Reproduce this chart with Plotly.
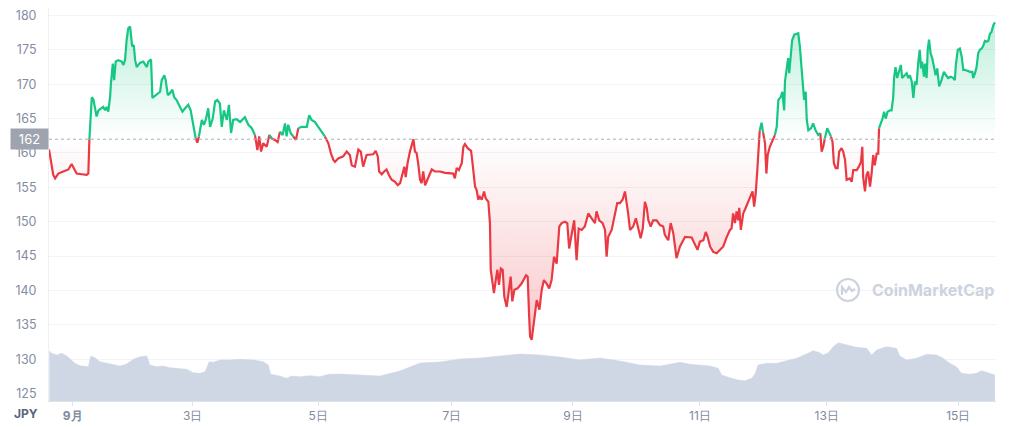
import numpy as np
import plotly.graph_objects as go

# ---------------- data ----------------
BASE = 162  # opening price reference line

# hours since start of window (start ~ Aug 31 18:00)
t_price = [0.0,0.8,1.6,2.3,3.5,5.4,7.3,8.5,9.1,10.4,12.3,14.2,14.8,15.2,15.7,16.1,16.7,17.3,17.9,18.6,
19.8,20.4,21.1,21.7,22.3,23.0,23.3,24.0,24.5,25.1,26.1,27.4,28.0,28.6,29.2,29.8,30.5,30.9,31.3,31.9,
32.4,33.0,34.2,35.5,36.1,36.8,37.4,38.4,38.9,39.9,41.1,41.8,42.4,43.4,43.9,44.7,45.5,46.4,47.1,48.0,
49.3,50.2,51.2,52.4,53.3,53.9,54.6,55.2,55.8,56.4,57.5,58.3,59.1,59.9,60.6,61.6,62.5,63.3,64.3,65.0,
65.8,66.9,67.7,68.5,69.3,70.6,71.9,73.7,75.0,76.3,77.5,78.4,79.1,79.8,80.6,81.9,82.9,83.8,85.0,86.0,
86.9,87.9,88.8,89.4,90.0,90.9,91.9,92.9,93.8,95.1,97.0,97.9,98.8,100.1,101.3,102.6,103.8,105.1,106.1,107.0,
107.6,108.8,110.7,112.0,113.2,113.9,115.1,116.4,117.3,118.2,119.5,120.8,122.0,122.9,123.7,124.2,125.2,126.1,127.0,127.9,
128.9,130.2,131.2,132.1,132.9,133.7,134.2,134.9,135.8,136.7,137.1,137.7,138.3,138.9,139.6,140.2,140.8,141.5,142.3,143.3,
144.0,145.2,147.1,149.0,150.9,152.1,152.7,153.4,154.2,155.3,155.9,156.5,157.5,158.8,159.3,159.9,160.3,160.9,161.5,162.1,
162.8,163.7,164.3,165.3,165.9,166.2,166.8,167.4,168.1,168.7,169.3,170.0,170.7,171.3,172.2,172.8,173.7,174.3,175.1,176.3,
177.8,179.5,180.1,180.6,181.0,181.6,182.5,183.5,184.5,185.4,186.2,187.2,188.2,189.1,190.0,191.0,192.0,192.9,194.1,195.0,
195.7,196.6,197.6,198.5,199.3,200.4,201.6,202.9,204.2,205.4,206.0,207.0,208.3,209.2,209.8,210.4,211.7,212.9,213.8,214.8,
215.8,216.7,217.3,217.9,218.6,219.8,220.8,221.7,222.6,223.4,224.2,224.9,225.5,226.4,227.3,228.6,229.9,231.1,231.7,233.0,
233.9,234.9,236.1,237.4,239.3,241.8,243.0,244.0,244.9,246.2,247.1,247.8,248.7,249.9,251.2,252.4,253.7,255.0,256.2,256.8,
257.4,258.1,258.7,259.3,259.7,260.3,261.2,262.1,263.1,264.1,264.7,265.3,265.9,266.5,266.8,267.4,268.1,268.7,269.4,269.9,
270.4,271.2,272.1,273.1,273.8,274.4,275.4,275.9,276.6,276.9,277.5,278.1,278.5,279.1,279.6,280.4,281.3,281.9,282.5,283.2,
283.8,284.1,284.7,285.1,285.7,286.7,287.5,288.4,289.4,290.2,290.7,291.3,291.9,292.8,293.4,294.2,294.8,295.3,296.0,296.7,
297.3,298.2,298.8,299.5,300.1,301.3,302.0,302.6,303.9,304.7,305.5,306.0,306.3,307.0,307.6,308.2,308.9,309.5,310.1,310.7,
311.4,312.0,312.3,313.0,313.6,314.2,314.8,315.5,316.4,317.0,317.6,318.0,318.5,319.1,319.9,320.5,321.0,321.8,322.7,323.3,
323.9,324.6,325.2,325.8,326.4,327.0,327.6,328.1,328.5,329.2,329.6,330.2,330.6,331.1,331.7,332.3,332.9,333.6,334.2,334.9,
335.8,336.7,337.5,338.3,339.3,340.2,340.8,341.2,341.9,342.7,343.4,344.0,344.6,345.2,346.5,347.4,347.7,348.4,349.0,349.6,
350.2,350.9,351.5,352.1,352.8,353.4,354.0,354.6,355.3,355.9]

price = [160.5,158.5,156.8,156.3,157.0,157.3,157.6,158.4,158.0,157.0,156.9,156.8,157.0,162.0,166.2,168.1,167.8,166.2,165.3,166.2,
166.5,166.7,166.2,166.7,166.0,168.2,170.1,173.0,170.6,173.3,173.5,173.3,172.8,173.5,176.4,178.1,178.4,176.9,175.5,175.7,
173.5,172.5,173.1,173.3,173.0,172.5,173.3,173.6,168.0,168.3,168.7,168.9,170.6,171.3,170.6,168.4,168.7,169.2,168.1,167.7,
166.7,166.0,166.5,167.0,166.2,164.8,163.3,162.1,161.5,162.4,164.8,164.1,165.0,166.5,163.8,165.0,167.5,167.7,167.2,163.8,
166.2,164.8,167.0,162.9,164.8,164.9,164.5,165.2,164.1,163.6,162.6,160.4,162.4,160.2,161.4,160.9,162.6,162.1,161.9,161.6,
163.1,162.6,164.3,162.4,164.1,162.9,162.4,161.9,163.6,163.8,163.8,165.5,164.8,164.5,163.8,163.1,162.4,161.4,159.9,159.0,
158.7,159.2,159.5,160.2,159.7,158.2,158.0,160.5,160.2,158.0,159.7,159.8,159.8,160.3,159.5,157.3,156.9,157.3,157.6,156.8,
156.1,155.8,155.3,155.6,157.0,158.0,156.5,158.5,160.2,161.4,162.0,160.2,160.0,158.5,156.1,155.6,157.3,155.3,156.1,156.8,
157.6,157.3,157.3,157.1,157.0,157.0,156.3,157.8,157.5,158.5,160.9,161.3,160.7,160.3,158.7,157.0,155.1,154.6,153.2,153.6,
153.2,154.4,153.4,152.9,149.8,143.0,141.0,139.6,141.5,143.0,140.8,143.2,143.0,139.1,137.6,139.1,142.0,138.4,140.1,140.3,
141.0,142.2,142.0,136.7,133.3,132.8,135.7,138.6,137.2,140.1,141.5,141.0,140.3,141.5,144.9,143.9,149.3,149.8,150.0,149.8,
146.1,148.3,150.2,144.4,149.0,148.8,149.3,151.2,150.5,149.8,151.5,150.2,149.8,148.8,144.9,147.8,148.8,151.0,152.7,152.7,
153.2,154.4,152.9,151.2,148.8,149.3,150.5,148.8,147.6,149.0,152.9,152.0,150.2,149.3,150.2,150.2,149.5,149.3,148.1,147.3,
149.8,148.3,144.7,146.4,147.8,147.7,146.8,145.9,147.1,147.3,148.5,147.8,146.4,145.6,145.4,145.9,146.4,147.8,148.8,149.0,
151.2,149.8,151.5,150.2,152.0,148.8,151.2,152.0,152.9,153.6,154.4,152.2,154.1,157.5,159.9,163.3,164.4,162.9,161.4,157.0,
159.7,160.9,161.6,162.6,163.8,167.7,168.2,168.9,166.2,170.4,172.5,173.8,171.6,174.3,176.4,177.2,177.3,177.4,175.5,172.5,
169.6,167.7,168.9,164.8,163.3,163.6,164.3,163.3,162.6,162.9,160.2,160.9,162.1,163.6,163.1,162.4,161.6,158.5,157.8,157.8,
160.2,160.7,160.2,159.0,156.1,156.3,155.8,157.5,157.5,158.0,158.7,160.9,156.5,154.4,156.8,157.3,155.1,157.0,159.7,158.2,
159.9,159.9,163.6,164.3,165.0,166.0,165.0,166.0,166.2,166.2,168.0,171.1,172.5,170.9,172.1,172.8,170.9,171.3,171.6,170.9,
171.3,170.4,168.0,170.4,169.9,173.0,175.0,172.3,173.3,171.1,173.0,170.9,175.0,176.5,174.5,173.8,172.5,171.3,172.3,169.7,
170.6,171.8,171.3,170.9,171.1,170.9,170.6,172.8,175.0,175.2,174.0,172.1,172.1,172.0,171.8,171.8,170.9,171.6,172.5,174.5,
175.0,175.2,175.6,176.3,176.2,176.3,177.3,177.6,178.6,179.0]

# trading volume (arbitrary units, billions JPY)
t_vol = [0.1,1.0,2.9,4.8,6.7,8.5,9.8,11.7,14.8,15.7,17.3,19.2,21.7,24.2,26.7,29.2,31.7,34.2,36.8,38.0,
40.5,43.0,45.5,48.0,51.8,54.3,56.8,58.7,60.3,61.8,64.3,68.1,71.9,76.9,80.6,82.5,83.4,86.9,89.4,91.3,
94.4,98.2,101.9,105.1,109.5,117.0,124.5,132.0,139.6,147.1,154.6,162.1,169.7,177.2,184.7,192.2,199.8,207.3,214.8,222.3,
229.9,237.4,241.2,244.9,248.7,251.8,253.1,256.8,259.3,261.8,264.4,265.6,266.8,270.0,273.8,277.5,281.3,285.0,287.5,290.0,
291.3,293.2,295.1,296.9,300.1,303.8,307.6,309.5,311.4,315.1,318.9,320.1,322.7,326.4,330.2,333.9,336.4,338.9,341.4,343.3,
346.5,349.0,350.9,352.8,355.9]
volume = [5.03,4.77,4.60,4.77,4.50,4.10,3.77,3.53,3.43,4.50,4.33,3.93,3.77,3.67,3.50,3.70,4.17,4.43,4.50,3.60,
3.43,3.50,3.33,3.27,3.17,2.83,2.77,2.93,3.93,3.87,4.10,4.10,4.17,4.10,3.93,3.60,2.67,2.50,2.27,2.50,
2.43,2.53,2.43,2.67,2.70,2.60,2.50,3.00,3.80,3.90,4.20,4.30,4.50,4.70,4.60,4.40,4.10,4.30,4.00,3.60,
3.50,3.87,3.67,3.60,3.50,3.27,2.60,2.27,2.10,2.03,2.27,2.70,3.60,3.77,3.77,4.03,4.27,4.70,5.03,4.83,
4.60,4.83,5.43,5.83,5.60,5.37,5.27,4.60,5.10,5.43,5.27,4.50,4.10,4.27,4.67,4.60,4.27,3.77,3.43,2.77,
2.67,2.77,3.03,2.87,2.60]

tick_hours = [8.9, 54.1, 101.3, 151.6, 197.1, 244.9, 292.6, 342.1]
tick_text = ["<b>9月</b>", "3日", "5日", "7日", "9日", "11日", "13日", "15日"]
y_ticks = [125, 130, 135, 140, 145, 150, 155, 160, 165, 170, 175, 180]

# ---------------- figure ----------------
GREEN = "#16c784"
RED = "#ea3943"
t = np.array(t_price)
p = np.array(price)
above = p >= BASE
green_line = np.where(above, p, np.nan)
prev_below = np.r_[True, ~above[:-1]]
next_below = np.r_[~above[1:], True]
red_line = np.where(~above | prev_below | next_below, p, np.nan)

fig = go.Figure()
fig.add_trace(go.Scatter(x=t, y=np.full_like(p, BASE), mode="lines",
                         line=dict(width=0), hoverinfo="skip", showlegend=False))
fig.add_trace(go.Scatter(x=t, y=np.maximum(p, BASE), mode="lines", line=dict(width=0),
                         fill="tonexty",
                         fillgradient=dict(type="vertical", start=BASE, stop=180,
                                           colorscale=[[0, "rgba(22,199,132,0.0)"],
                                                       [1, "rgba(22,199,132,0.30)"]]),
                         hoverinfo="skip", showlegend=False))
fig.add_trace(go.Scatter(x=t, y=np.full_like(p, BASE), mode="lines",
                         line=dict(width=0), hoverinfo="skip", showlegend=False))
fig.add_trace(go.Scatter(x=t, y=np.minimum(p, BASE), mode="lines", line=dict(width=0),
                         fill="tonexty",
                         fillgradient=dict(type="vertical", start=BASE, stop=133,
                                           colorscale=[[0, "rgba(234,57,67,0.0)"],
                                                       [1, "rgba(234,57,67,0.28)"]]),
                         hoverinfo="skip", showlegend=False))
fig.add_trace(go.Scatter(x=t, y=red_line, mode="lines", line=dict(color=RED, width=2.2),
                         connectgaps=False, showlegend=False))
fig.add_trace(go.Scatter(x=t, y=green_line, mode="lines", line=dict(color=GREEN, width=2.2),
                         connectgaps=False, showlegend=False))
fig.add_trace(go.Scatter(x=t_vol, y=volume, yaxis="y2", mode="lines",
                         line=dict(color="#cfd6e4", width=0.5), fill="tozeroy",
                         fillcolor="#cfd6e4", showlegend=False))

# the page body adds an 8px offset; size the figure to fit the 1024x427 window
fig.update_layout(
    width=1016, height=419,
    margin=dict(l=41, r=28, t=0, b=26, autoexpand=False),
    paper_bgcolor="white", plot_bgcolor="white",
    font=dict(family="Inter, Roboto, sans-serif", color="#808a9d", size=12),
    xaxis=dict(range=[0, 356.3], tickvals=tick_hours, ticktext=tick_text,
               automargin=False, ticklabeloverflow="allow",
               showgrid=False, zeroline=False, showline=True, linecolor="#dfe3ea",
               linewidth=1, ticks="outside", ticklen=4, tickcolor="#dfe3ea",
               tickfont=dict(size=12, color="#808a9d")),
    yaxis=dict(range=[123.91, 181.09], tickvals=y_ticks, showgrid=True,
               automargin=False, ticklabeloverflow="allow",
               gridcolor="#f1f3f6", gridwidth=1, zeroline=False, showline=True,
               linecolor="#eef0f4", ticks="", ticklabelstandoff=9,
               tickfont=dict(size=12.5, color="#858ca2")),
    yaxis2=dict(range=[0, 39.3], overlaying="y", side="right", visible=False,
                showgrid=False, automargin=False),
    showlegend=False,
)

fig.add_shape(type="line", xref="paper", x0=0, x1=1, yref="y", y0=BASE, y1=BASE,
              line=dict(color="#a7adb8", width=1, dash="dot"))

fig.add_annotation(xref="paper", x=0, xanchor="right", yref="y", y=BASE, yanchor="middle",
                   text="162", showarrow=False, width=35, height=18,
                   bgcolor="#9ea4af", font=dict(color="white", size=13))
fig.add_annotation(xref="paper", x=-0.0243, xanchor="center", yref="paper", y=-0.033,
                   yanchor="middle", text="<b>JPY</b>", showarrow=False,
                   font=dict(color="#58667e", size=12))

# watermark
fig.add_annotation(xref="paper", x=0.8665, xanchor="left", yref="paper", y=0.2824,
                   yanchor="middle", text="<b>CoinMarketCap</b>", showarrow=False,
                   font=dict(color="#cdd3de", size=16))
fig.add_shape(type="circle", xref="paper", yref="paper", xsizemode="pixel", ysizemode="pixel",
              xanchor=0.8437, yanchor=0.2824, x0=-11, x1=11, y0=-11, y1=11,
              line=dict(color="#cdd3de", width=2.2))
fig.add_shape(type="path", xref="paper", yref="paper", xsizemode="pixel", ysizemode="pixel",
              xanchor=0.8437, yanchor=0.2824,
              path="M -6,-5 L -6,3 L -2,-2 L 1,3 L 4,-1 L 7,1",
              line=dict(color="#cdd3de", width=2.2))

fig.write_html("out.html")
